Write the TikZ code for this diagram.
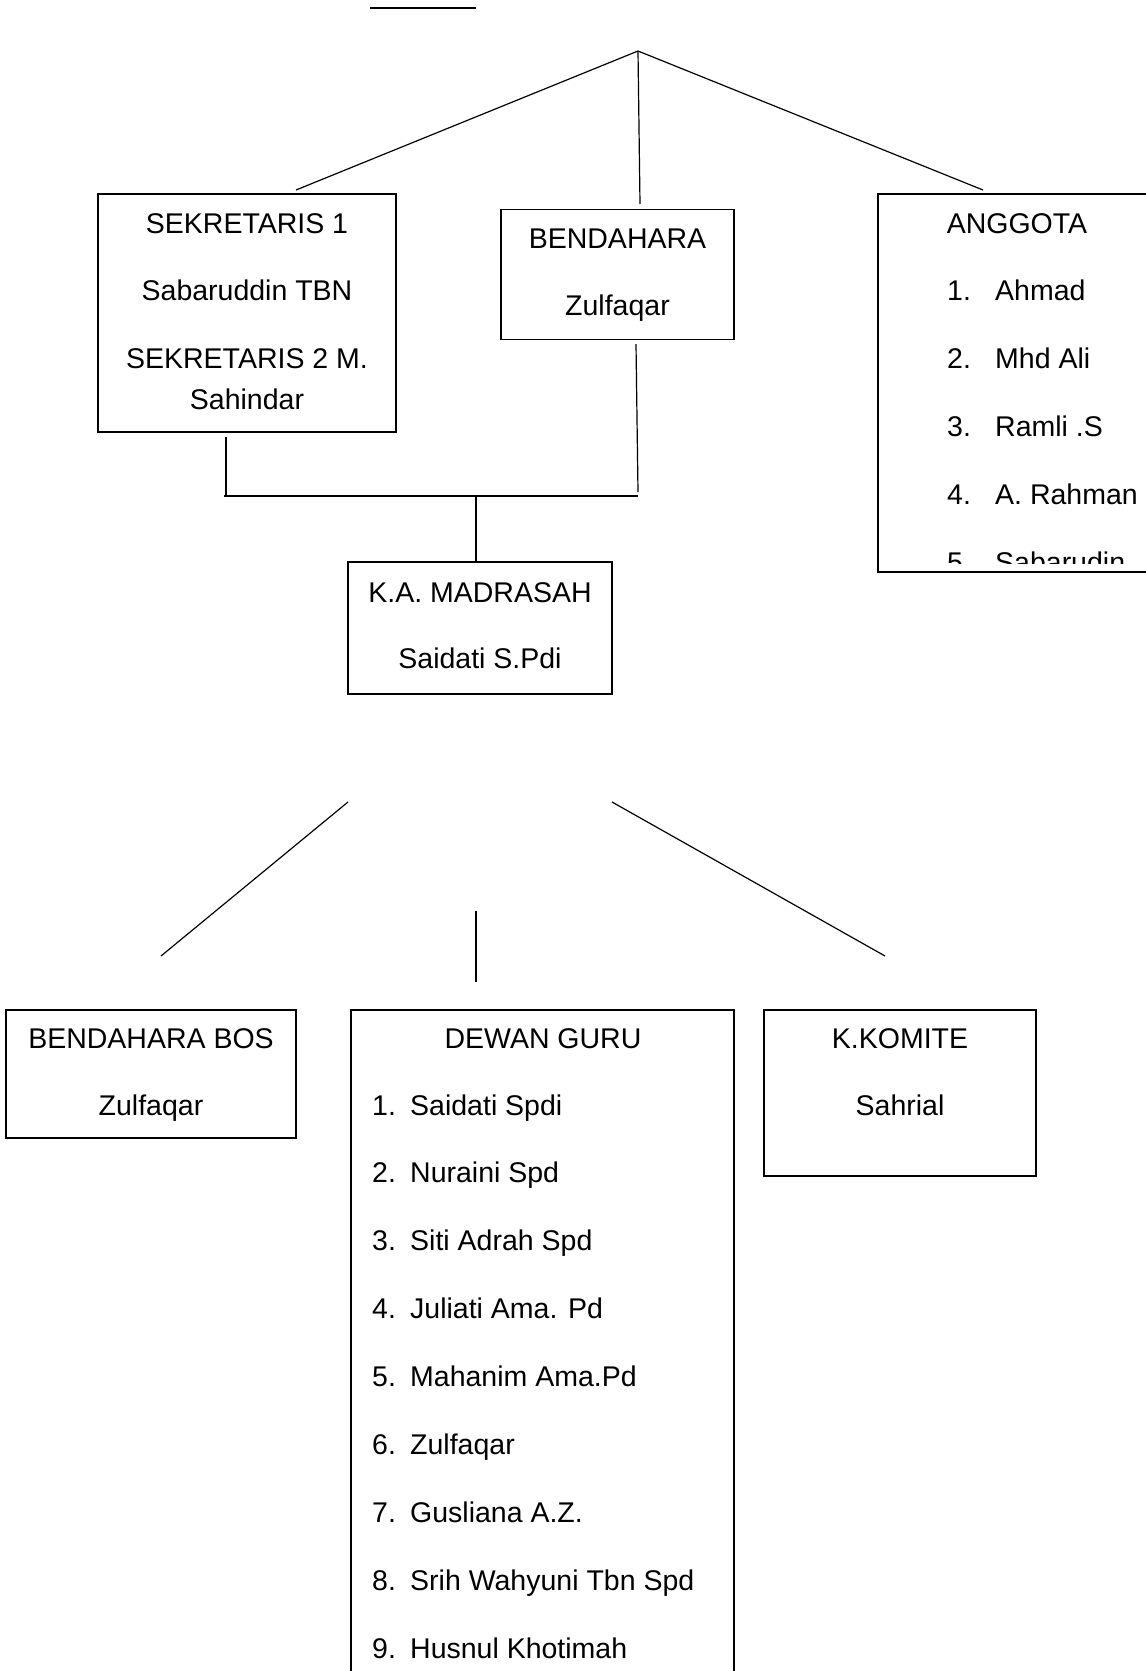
\documentclass[tikz,border=0pt]{standalone}
\usepackage{fontspec}
\setmainfont{Liberation Sans}
\begin{document}
\begin{tikzpicture}[x=1pt,y=-1pt,
  box/.style={draw,line width=1.2pt,inner sep=0pt},
  conn/.style={line width=1.2pt},
  lbl/.style={anchor=base,inner sep=0pt,font=\fontsize{28.5}{34}\selectfont},
  lbll/.style={anchor=base west,inner sep=0pt,font=\fontsize{28.5}{34}\selectfont}]
\clip (0,0) rectangle (1146,1671);
\fill[white] (0,0) rectangle (1146,1671);

% boxes
\node[box,minimum width=298pt,minimum height=238pt] (sek) at (247,313) {};
\node[box,minimum width=233pt,minimum height=130pt] (bend) at (617.5,274.5) {};
\node[box,minimum width=300pt,minimum height=378pt] (ang) at (1028,383) {};
\node[box,minimum width=264pt,minimum height=132pt] (kam) at (480,628) {};
\node[box,minimum width=290pt,minimum height=128pt] (bos) at (151,1074) {};
\node[box,minimum width=383pt,minimum height=720pt] (dg) at (542.5,1370) {};
\node[box,minimum width=272pt,minimum height=166pt] (kk) at (900,1093) {};

% texts
\node[lbl] (t1) at (247,233) {SEKRETARIS 1};
\node[lbl] (t2) at (247,300) {Sabaruddin TBN};
\node[lbl] (t3) at (247,368) {SEKRETARIS 2 M.};
\node[lbl] (t4) at (247,409) {Sahindar};
\node[lbl] (t5) at (617.5,248) {BENDAHARA};
\node[lbl] (t6) at (617.5,315) {Zulfaqar};
\node[lbl] (t7) at (1017,233) {ANGGOTA};
\begin{scope}
\clip (ang.north west) rectangle (1146,563);
\foreach \n/\name [count=\i] in {1/Ahmad,2/Mhd Ali,3/Ramli .S,4/A. Rahman,5/Sabarudin}{
  \node[lbll] (an\i) at (947,{300+68*(\i-1)}) {\n.};
  \node[lbll] (am\i) at (995,{300+68*(\i-1)}) {\name};
}
\end{scope}
\node[lbl] (t8) at (480,602) {K.A. MADRASAH};
\node[lbl] (t9) at (480,668) {Saidati S.Pdi};
\node[lbl] (t10) at (151,1048) {BENDAHARA BOS};
\node[lbl] (t11) at (151,1115) {Zulfaqar};
\node[lbl] (t12) at (543,1048) {DEWAN GURU};
\foreach \name [count=\i] in {Saidati Spdi,Nuraini Spd,Siti Adrah Spd,Juliati Ama. Pd,Mahanim Ama.Pd,Zulfaqar,Gusliana A.Z.,Srih Wahyuni Tbn Spd,Husnul Khotimah}{
  \node[lbll] (dn\i) at (372,{1105+67.9*(\i-1)+10}) {\i.};
  \node[lbll] (dm\i) at (410,{1105+67.9*(\i-1)+10}) {\name};
}
\node[lbl] (t13) at (900,1048) {K.KOMITE};
\node[lbl] (t14) at (900,1115) {Sahrial};

% connectors
\coordinate (u1) at (370,8); \coordinate (u2) at (476,8);
\draw[conn] (u1) -- (u2);
\coordinate (apex) at (638,51);
\coordinate (a1) at (296,190); \coordinate (a2) at (640,204); \coordinate (a3) at (983,190);
\draw[conn] (a1) -- (apex) -- (a3);
\draw[conn] (apex) -- (a2);
\coordinate (s1) at (226,437); \coordinate (s2) at (226,496);
\coordinate (h1) at (224,496); \coordinate (h2) at (638,496);
\coordinate (b1) at (636,344); \coordinate (b2) at (638,492);
\coordinate (m1) at (476,496); \coordinate (m2) at (476,561);
\draw[conn] (s1) -- (s2);
\draw[conn] (h1) -- (h2);
\draw[conn] (b1) -- (b2);
\draw[conn] (m1) -- (m2);
\coordinate (l1) at (348,802); \coordinate (l2) at (161,956);
\coordinate (c1) at (476,911); \coordinate (c2) at (476,982);
\coordinate (r1) at (612,802); \coordinate (r2) at (885,956);
\draw[conn] (l1) -- (l2);
\draw[conn] (c1) -- (c2);
\draw[conn] (r1) -- (r2);
\end{tikzpicture}
\end{document}
